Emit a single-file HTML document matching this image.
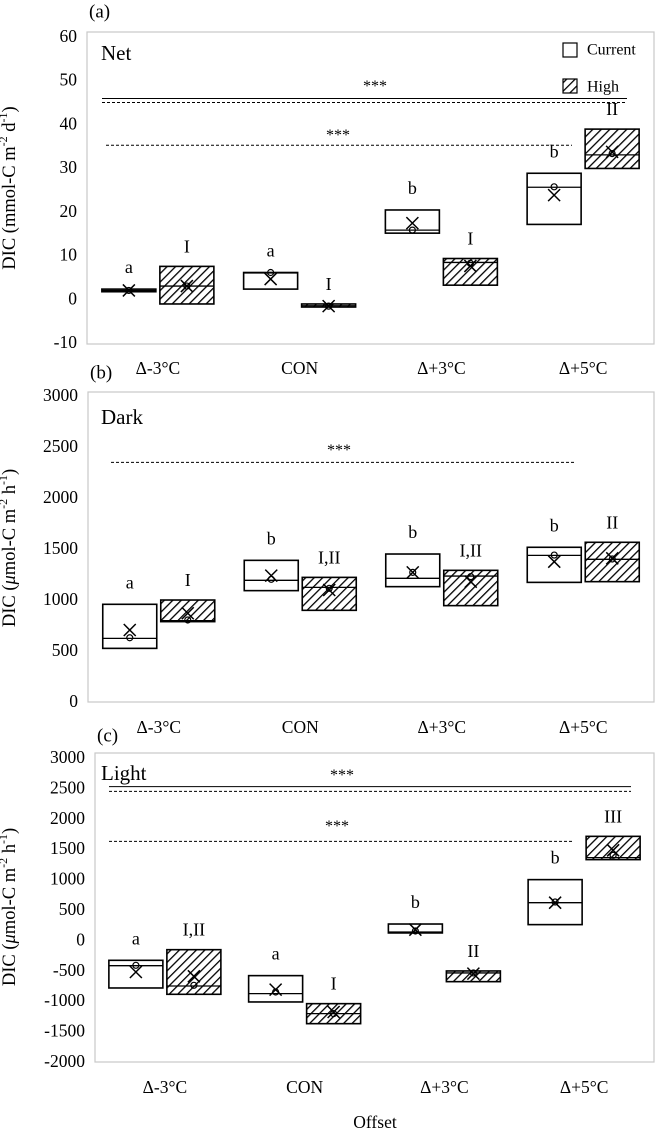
<!DOCTYPE html>
<html><head><meta charset="utf-8">
<style>
html,body{margin:0;padding:0;background:#fff;}
svg{display:block;font-family:"Liberation Serif",serif;}
</style></head>
<body>
<svg id="chart" width="655" height="1130" viewBox="0 0 655 1130" xmlns="http://www.w3.org/2000/svg">
<defs>
<pattern id="hatch" patternUnits="userSpaceOnUse" width="6" height="6" patternTransform="rotate(45)">
<rect width="6" height="6" fill="#fff"/>
<line x1="0" y1="0" x2="0" y2="6" stroke="#000" stroke-width="2.6"/>
</pattern>
</defs>
</svg>
<script>
// ---- data ----
const categories = ["Δ-3°C","CON","Δ+3°C","Δ+5°C"];
// Panel (a) Net
const netCurQ1 = [1.5, 2.1, 14.9, 16.9];
const netCurQ3 = [2.1, 5.9, 20.2, 28.6];
const netCurMed = [1.8, 5.8, 15.6, 25.4];
const netCurMean = [1.8, 4.4, 17.2, 23.6];
const netCurPt = [1.8, 5.9, 15.6, 25.5];
const netHighQ1 = [-1.3, -2.0, 3.0, 29.7];
const netHighQ3 = [7.3, -1.3, 9.1, 38.7];
const netHighMed = [2.8, -1.7, 8.2, 32.8];
const netHighMean = [2.8, -1.8, 7.4, 33.5];
const netHighPt = [2.8, -1.8, 8.0, 33.1];
const netCurLetters = ["a","a","b","b"];
const netHighLetters = ["I","I","I","II"];
const netTicks = [60,50,40,30,20,10,0,-10];
// Panel (b) Dark
const darkCurQ1 = [516, 1082, 1121, 1163];
const darkCurQ3 = [948, 1379, 1441, 1507];
const darkCurMed = [614, 1183, 1203, 1428];
const darkCurMean = [696, 1229, 1261, 1366];
const darkCurPt = [620, 1193, 1261, 1431];
const darkHighQ1 = [778, 889, 935, 1170];
const darkHighQ3 = [990, 1212, 1281, 1556];
const darkHighMed = [788, 1114, 1225, 1389];
const darkHighMean = [860, 1088, 1170, 1399];
const darkHighPt = [794, 1105, 1219, 1392];
const darkCurLetters = ["a","b","b","b"];
const darkHighLetters = ["I","I,II","I,II","II"];
const darkTicks = [3000,2500,2000,1500,1000,500,0];
// Panel (c) Light
const lightCurQ1 = [-799, -1029, 106, 243];
const lightCurQ3 = [-344, -596, 253, 983];
const lightCurMed = [-432, -892, 122, 604];
const lightCurMean = [-536, -826, 160, 604];
const lightCurPt = [-426, -865, 138, 615];
const lightHighQ1 = [-903, -1386, -695, 1312];
const lightHighQ3 = [-169, -1057, -519, 1695];
const lightHighMed = [-766, -1221, -552, 1345];
const lightHighMean = [-607, -1194, -563, 1465];
const lightHighPt = [-755, -1221, -552, 1383];
const lightCurLetters = ["a","a","b","b"];
const lightHighLetters = ["I,II","I","II","III"];
const lightTicks = [3000,2500,2000,1500,1000,500,0,-500,-1000,-1500,-2000];

const NS="http://www.w3.org/2000/svg";
const svg=document.getElementById('chart');
function mk(tag,attrs,parent){const e=document.createElementNS(NS,tag);for(const k in attrs)e.setAttribute(k,attrs[k]);(parent||svg).appendChild(e);return e;}
function txt(x,y,s,size,anchor,parent){const t=mk('text',{x:x,y:y,'font-size':size,'text-anchor':anchor||'middle','dominant-baseline':'central',fill:'#000'},parent);t.textContent=s;return t;}

function panel(cfg){
  const g=mk('g',{});
  
  
  const L=cfg.left,R=654,T=cfg.top,B=cfg.bottom;
  const ymax=cfg.ticks[0],ymin=cfg.ticks[cfg.ticks.length-1];
  const y=v=>cfg.yTop+(ymax-v)/(ymax-ymin)*(cfg.yBot-cfg.yTop);
  const cw=(R-L)/categories.length;
  const cx=i=>L+cw*(i+0.5);
  const frame=mk('rect',{x:L,y:T,width:R-L,height:B-T,fill:'none',stroke:'#c8c8c8','stroke-width':1.2},g);
  
  
  cfg.ticks.forEach(t=>{
    const e=txt(L-10,y(t),String(t),17.5,'end',g);
    
    
  });
  categories.forEach((c,i)=>{
    const e=txt(cx(i),cfg.xLabY,c,17.5,'middle',g);
    
    
  });
  cfg.sig.forEach(s=>{
    const l=mk('line',{x1:s.x1,x2:s.x2,y1:y(s.v),y2:y(s.v),stroke:'#000','stroke-width':1,'stroke-dasharray':s.dash?'3,2':'none'},g);
    
    
    if(s.star){const e=txt(s.sx,y(s.v)-s.off,'***',16,'middle',g);
      
      }
  });
  function boxes(q1,q3,med,mean,pt,letters,high,lofs){
    q1.forEach((v,i)=>{
      const x0=high?cx(i)+2:cx(i)-56, w=54;
      const yt=y(q3[i]),yb=y(v);
      const r=mk('rect',{x:x0,y:yt,width:w,height:Math.max(yb-yt,2),fill:high?'url(#hatch)':'#fff',stroke:'#000','stroke-width':1.6},g);
      
      
      const ml=mk('line',{x1:x0,x2:x0+w,y1:y(med[i]),y2:y(med[i]),stroke:'#000','stroke-width':1.3},g);
      
      
      const mx=x0+w/2,my=y(mean[i]),d=6;
      const xm=mk('path',{d:`M${mx-d},${my-d}L${mx+d},${my+d}M${mx+d},${my-d}L${mx-d},${my+d}`,stroke:'#000','stroke-width':1.5,fill:'none'},g);
      
      
      const c=mk('circle',{cx:mx,cy:y(pt[i]),r:3,fill:'none',stroke:'#000','stroke-width':1.2},g);
      
      
      const lt=txt(mx,yt-lofs,letters[i],18,'middle',g);
      
      
    });
  }
  boxes(cfg.cq1,cfg.cq3,cfg.cmed,cfg.cmean,cfg.cpt,cfg.cl,false,22);
  boxes(cfg.hq1,cfg.hq3,cfg.hmed,cfg.hmean,cfg.hpt,cfg.hl,true,20);
  const tl=txt(cfg.titleX,cfg.titleY,cfg.title,21,'start',g);
  
  
  const pl=txt(cfg.left+2,cfg.labY,cfg.label,19,'start',g);
  
  
  const at=mk('text',{x:0,y:0,'font-size':18.5,'text-anchor':'middle','dominant-baseline':'central',transform:`translate(10,${cfg.axisY}) rotate(-90)`},g);
  
  
  at.innerHTML=cfg.axisHTML;
  return g;
}

panel({name:'panel-net',left:87,top:32,bottom:344,yTop:36,yBot:342,ticks:netTicks,xLabY:368,
  title:'Net',titleX:101,titleY:53,label:'(a)',labY:12,axisY:188,
  axisHTML:'DIC (mmol-C m<tspan dy="-7" font-size="12">-2</tspan><tspan dy="7"> d</tspan><tspan dy="-7" font-size="12">-1</tspan><tspan dy="7">)</tspan>',
  sig:[{v:45.7,x1:102,x2:627,dash:false,star:true,sx:375,off:12},{v:44.8,x1:102,x2:627,dash:true},{v:35,x1:106,x2:572,dash:true,star:true,sx:338,off:10}],
  cq1:netCurQ1,cq3:netCurQ3,cmed:netCurMed,cmean:netCurMean,cpt:netCurPt,cl:netCurLetters,
  hq1:netHighQ1,hq3:netHighQ3,hmed:netHighMed,hmean:netHighMean,hpt:netHighPt,hl:netHighLetters});

panel({name:'panel-dark',left:88,top:392,bottom:702,yTop:395,yBot:701,ticks:darkTicks,xLabY:727,
  title:'Dark',titleX:101,titleY:417,label:'(b)',labY:373,axisY:548,
  axisHTML:'DIC (<tspan font-style="italic">μ</tspan>mol-C m<tspan dy="-7" font-size="12">-2</tspan><tspan dy="7"> h</tspan><tspan dy="-7" font-size="12">-1</tspan><tspan dy="7">)</tspan>',
  sig:[{v:2340,x1:111,x2:576,dash:true,star:true,sx:339,off:12}],
  cq1:darkCurQ1,cq3:darkCurQ3,cmed:darkCurMed,cmean:darkCurMean,cpt:darkCurPt,cl:darkCurLetters,
  hq1:darkHighQ1,hq3:darkHighQ3,hmed:darkHighMed,hmean:darkHighMean,hpt:darkHighPt,hl:darkHighLetters});

panel({name:'panel-light',left:95,top:753,bottom:1062,yTop:757,yBot:1061,ticks:lightTicks,xLabY:1087,
  title:'Light',titleX:101,titleY:773,label:'(c)',labY:736,axisY:907,
  axisHTML:'DIC (<tspan font-style="italic">μ</tspan>mol-C m<tspan dy="-7" font-size="12">-2</tspan><tspan dy="7"> h</tspan><tspan dy="-7" font-size="12">-1</tspan><tspan dy="7">)</tspan>',
  sig:[{v:2512,x1:109,x2:631,dash:false,star:true,sx:342,off:11},{v:2435,x1:109,x2:631,dash:true},{v:1613,x1:109,x2:573,dash:true,star:true,sx:337,off:15}],
  cq1:lightCurQ1,cq3:lightCurQ3,cmed:lightCurMed,cmean:lightCurMean,cpt:lightCurPt,cl:lightCurLetters,
  hq1:lightHighQ1,hq3:lightHighQ3,hmed:lightHighMed,hmean:lightHighMean,hpt:lightHighPt,hl:lightHighLetters});

const lg=mk('g',{});


const lc=mk('rect',{x:563,y:43,width:14,height:14,fill:'#fff',stroke:'#000','stroke-width':1.2},lg);


const lct=txt(587,50,'Current',16,'start',lg);


const lh=mk('rect',{x:563,y:79,width:14,height:14,fill:'url(#hatch)',stroke:'#000','stroke-width':1.2},lg);


const lht=txt(587,87,'High',16,'start',lg);


const xt=txt(375,1122,'Offset',17.5,'middle');


</script>
</body></html>
